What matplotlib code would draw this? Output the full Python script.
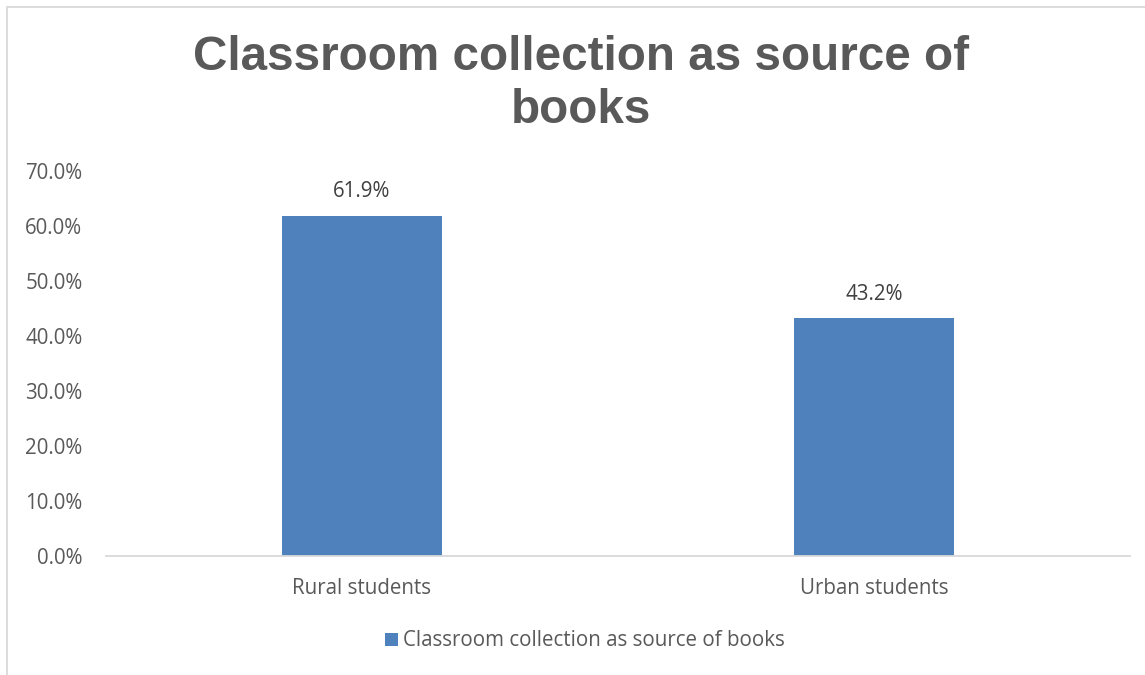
import matplotlib
matplotlib.use("Agg")
import matplotlib.pyplot as plt
from matplotlib.patches import Rectangle
from matplotlib.ticker import FuncFormatter

categories = ["Rural students", "Urban students"]
values = [61.9, 43.2]
series_name = "Classroom collection as source of books"
title = "Classroom collection as source of\nbooks"
y_ticks = [0, 10, 20, 30, 40, 50, 60, 70]

W, H = 1145, 675
fig = plt.figure(figsize=(W / 100, H / 100), dpi=100)
fig.patch.set_facecolor("white")

# chart frame (extends past the right and bottom edges)
fig.add_artist(Rectangle((7 / W, -0.1), 1.2, (H - 7) / H + 0.1, transform=fig.transFigure,
                         fill=False, edgecolor="#D9D9D9", linewidth=1.3))

ax = fig.add_axes([106 / W, (H - 556) / H, (1130 - 106) / W, (556 - 171) / H])

bar_color = "#4F81BD"
text_color = "#595959"
label_font = ["Open Sans", "DejaVu Sans"]
fs = 14.8

x = list(range(len(categories)))
bars = ax.bar(x, values, width=0.3125, color=bar_color, label=series_name, zorder=2)

ax.set_xlim(-0.5, len(categories) - 0.5)
ax.set_ylim(0, 70)
ax.set_yticks(y_ticks)
ax.yaxis.set_major_formatter(FuncFormatter(lambda v, _: f"{v:.1f}%"))
ax.set_xticks(x)
ax.set_xticklabels(categories)

for s in ["top", "right", "left"]:
    ax.spines[s].set_visible(False)
ax.spines["bottom"].set_color("#D9D9D9")
ax.spines["bottom"].set_linewidth(1.3)

ax.tick_params(axis="y", length=0, pad=17, labelsize=fs, labelcolor=text_color)
ax.tick_params(axis="x", length=0, pad=16, labelsize=fs, labelcolor=text_color)
for lab in ax.get_xticklabels() + ax.get_yticklabels():
    lab.set_family(label_font)

for rect, v in zip(bars, values):
    ax.annotate(f"{v:.1f}%", (rect.get_x() + rect.get_width() / 2, v),
                xytext=(0, 10), textcoords="offset points", ha="center", va="bottom",
                fontsize=fs, color="#404040", family=label_font)

fig.text(581 / W, 1 - 84 / H, title, ha="center", va="center", fontsize=34.3,
         fontweight="bold", color=text_color, family=["Liberation Sans", "DejaVu Sans"],
         linespacing=1.24)

leg = fig.legend(loc="center", bbox_to_anchor=(585 / W, 1 - 641 / H), frameon=False,
                 handlelength=0.62, handleheight=0.62, handletextpad=0.25,
                 prop={"family": label_font, "size": fs})
for t in leg.get_texts():
    t.set_color(text_color)

fig.savefig("out.png", dpi=100, facecolor="white")
